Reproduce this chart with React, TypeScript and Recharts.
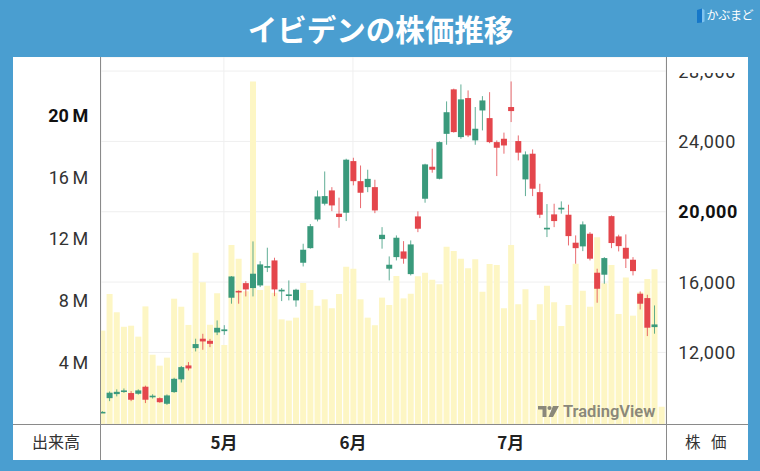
import React from "react";
import { ComposedChart, Bar, XAxis, YAxis, CartesianGrid } from "recharts";

const opens = [8580, 9400, 9630, 9770, 9690, 9650, 10050, 9450, 9400, 9080, 9745, 10470, 11260, 12245, 12780, 12660, 13135, 13210, 15110, 15500, 15940, 15660, 15810, 16815, 17232, 15470, 15240, 14960, 17100, 17930, 19560, 20456, 21213, 19890, 19945, 22880, 21740, 21400, 21400, 18445, 16760, 17420, 17744, 16453, 19735, 20740, 22560, 21875, 24430, 26960, 24245, 26465, 24060, 25760, 25325, 23960, 24150, 25955, 24020, 21840, 23300, 21115, 18995, 19850, 20130, 19830, 18240, 18030, 18750, 16532, 16420, 19750, 18597, 17950, 17270, 15340, 15090, 13440];
const highs = [8660, 9780, 9900, 9950, 9800, 9900, 10110, 9620, 9440, 9610, 10560, 11230, 11450, 12780, 13060, 12770, 13820, 13550, 16340, 15530, 16055, 18313, 17190, 17955, 17385, 15660, 16095, 15620, 18180, 19300, 21210, 22290, 21400, 20800, 23015, 23070, 22630, 22390, 21820, 19125, 17460, 18654, 18330, 18370, 20020, 22730, 23585, 24000, 26275, 27000, 27240, 26900, 25955, 26575, 26800, 24055, 24500, 27410, 24340, 23430, 23545, 21590, 20435, 20455, 20590, 20400, 18654, 19450, 18840, 16760, 17420, 19790, 18692, 18710, 17420, 15470, 15280, 14673];
const lows = [8560, 9230, 9500, 9700, 9230, 9600, 9120, 9380, 9140, 9020, 9700, 10290, 10975, 12057, 12150, 12300, 12985, 13000, 14770, 14770, 15185, 15185, 15715, 16570, 15200, 14920, 14960, 14600, 16890, 17900, 19450, 20360, 20035, 19090, 19470, 21500, 20205, 21115, 19920, 17900, 16095, 17232, 17045, 16380, 18840, 20513, 22220, 21840, 23810, 24500, 24150, 24245, 23810, 24625, 23900, 22030, 23300, 25100, 22920, 20890, 20890, 19640, 18560, 19125, 19890, 18085, 17045, 17760, 17232, 14826, 15905, 17930, 17744, 16800, 16380, 14445, 12930, 13065];
const closes = [8620, 9710, 9760, 9840, 9310, 9840, 9310, 9540, 9170, 9555, 10500, 11165, 11090, 12475, 12625, 12490, 13400, 13310, 16320, 15430, 15583, 16476, 17005, 16910, 15583, 15565, 15300, 15565, 17840, 19180, 20870, 20890, 20360, 19700, 22960, 21740, 21080, 21870, 20075, 18690, 16987, 18522, 17330, 18142, 19035, 22692, 22390, 23960, 25660, 24530, 26390, 24340, 24720, 26330, 23960, 23640, 23770, 25725, 23360, 23260, 21310, 19830, 19090, 19470, 20228, 18615, 17930, 19280, 17330, 15620, 17365, 18220, 18045, 17330, 16625, 14770, 13405, 13592];
// volume in millions of shares
const volumes = [6.05, 8.42, 7.24, 6.3, 6.37, 5.66, 7.62, 4.49, 3.78, 4.3, 8.12, 7.6, 6.42, 11.1, 9.18, 6.43, 8.47, 5.12, 11.6, 10.7, 8.6, 22.2, 8.68, 8.96, 8.5, 6.78, 6.7, 6.89, 9.14, 8.68, 7.66, 8.08, 7.5, 8.42, 10.19, 10.06, 8.08, 6.89, 6.4, 8.19, 7.71, 9.59, 8.14, 8.44, 9.57, 9.8, 9.35, 9.05, 11.49, 11.21, 10.71, 10.09, 10.68, 8.57, 10.37, 10.3, 7.5, 11.6, 7.76, 8.73, 6.74, 7.76, 8.96, 7.89, 6.35, 7.71, 10.39, 8.64, 7.6, 12.1, 9.12, 10.3, 7.13, 9.5, 7.02, 8.53, 9.4, 10.02, 1.12];

const volumeTicks = [4, 8, 12, 16, 20];
const volumeLabels = ["4\u2009M", "8\u2009M", "12\u2009M", "16\u2009M", "20\u2009M"];
const priceTicks = [12000, 16000, 20000, 24000, 28000];
const priceLabels = ["12,000", "16,000", "20,000", "24,000", "28,000"];
const monthTicks = [17, 35, 57];
const monthLabels = ["5月", "6月", "7月"];

const data = volumes.map((v, i) => ({
  i,
  vol: v,
  open: opens[i],
  high: highs[i],
  low: lows[i],
  close: closes[i],
  range: opens[i] == null ? null : [lows[i], highs[i]],
}));

const UP = "#3a9a7c";
const DOWN = "#e4464c";
const BLUE = "#4a9ed0";
const NUM_FONT = "Roboto, 'Noto Sans', sans-serif";
const JP_FONT = "'Noto Sans CJK JP', sans-serif";

const Candle = (props: any) => {
  const { x, y, width, height, payload } = props;
  if (!payload || payload.open == null || height == null || isNaN(height)) return null;
  const { open, close, high, low } = payload;
  const top = Math.min(y, y + height);
  const h = Math.abs(height);
  const k = high === low ? 0 : h / (high - low);
  const yO = top + (high - open) * k;
  const yC = top + (high - close) * k;
  const color = close >= open ? UP : DOWN;
  const cx = x + width / 2;
  const bTop = Math.min(yO, yC);
  const bH = Math.max(1.6, Math.abs(yO - yC));
  return (
    <g>
      <line x1={cx} x2={cx} y1={top} y2={top + h} stroke={color} strokeWidth={1} strokeOpacity={0.8} />
      <rect x={x} y={bTop} width={width} height={bH} fill={color} />
    </g>
  );
};

const VolTick = (props: any) => {
  const { x, y, payload } = props;
  const idx = volumeTicks.indexOf(payload.value);
  const bold = payload.value === 20;
  return (
    <text x={x} y={y} textAnchor="end" dominantBaseline="central" fontFamily={NUM_FONT} fontSize={18} fontWeight={bold ? 700 : 400} fill={bold ? "#111" : "#333"}>
      {volumeLabels[idx]}
    </text>
  );
};

const PriceTick = (props: any) => {
  const { x, y, payload } = props;
  const idx = priceTicks.indexOf(payload.value);
  const bold = payload.value === 20000;
  return (
    <text x={x} y={y} textAnchor="start" dominantBaseline="central" fontFamily={NUM_FONT} fontSize={18} letterSpacing={0.6} fontWeight={bold ? 700 : 400} fill={bold ? "#111" : "#333"}>
      {priceLabels[idx]}
    </text>
  );
};

const MonthTick = (props: any) => {
  const { x, y, payload } = props;
  const idx = monthTicks.indexOf(payload.value);
  return (
    <text x={x} y={y} textAnchor="middle" dominantBaseline="central" fontFamily={JP_FONT} fontSize={17} fontWeight={700} fill="#222">
      {monthLabels[idx]}
    </text>
  );
};

const line = (style: React.CSSProperties) => (
  <div style={{ position: "absolute", background: "#8a8a8a", ...style }} />
);

export default function App() {
  return (
    <div style={{ position: "absolute", left: 0, top: 0, width: 760, height: 471, background: BLUE, overflow: "hidden" }}>
      <div style={{ position: "absolute", left: 0, top: 9, width: 761, textAlign: "center", color: "#fff", fontFamily: JP_FONT, fontWeight: 700, fontSize: 29.5, lineHeight: "38px" }}>
        イビデンの株価推移
      </div>
      <svg style={{ position: "absolute", left: 695, top: 7 }} width={12} height={17}>
        <polygon points="2,3 7,1.5 7,15.5 2,16" fill="#1677c9" />
        <polygon points="7,1.5 9.5,3 9.5,14.5 7,15.5" fill="#7fc3ef" />
      </svg>
      <div style={{ position: "absolute", left: 706.5, top: 6, color: "#fff", fontFamily: JP_FONT, fontSize: 12, lineHeight: "18px", letterSpacing: -0.3 }}>
        かぶまど
      </div>
      <div style={{ position: "absolute", left: 13, top: 57, width: 735, height: 403, background: "#fff" }}>
        <ComposedChart width={735} height={403} data={data} margin={{ top: 0, right: 0, bottom: 0, left: 0 }}>
          <CartesianGrid xAxisId="v" yAxisId="price" stroke="#efefef" strokeWidth={1} />
          <XAxis xAxisId="p" dataKey="i" type="number" domain={[-0.14, 78.66]} allowDataOverflow hide height={0} />
          <XAxis xAxisId="v" dataKey="i" type="number" domain={[-0.14, 78.66]} allowDataOverflow ticks={monthTicks} interval={0} tick={<MonthTick />} tickLine={false} axisLine={false} tickSize={0} tickMargin={17} height={36} />
          <YAxis yAxisId="vol" orientation="left" width={88} domain={[0, 23.78]} allowDataOverflow ticks={volumeTicks} interval={0} tick={<VolTick />} tickLine={false} axisLine={false} tickSize={0} tickMargin={12.7} />
          <YAxis yAxisId="price" orientation="right" width={82} domain={[7930, 28800]} allowDataOverflow ticks={priceTicks} interval={0} tick={<PriceTick />} tickLine={false} axisLine={false} tickSize={0} tickMargin={12.3} />
          <Bar xAxisId="v" yAxisId="vol" dataKey="vol" fill="#fdf6c4" barSize={6} isAnimationActive={false} />
          <Bar xAxisId="p" yAxisId="price" dataKey="range" shape={<Candle />} barSize={6} isAnimationActive={false} />
        </ComposedChart>
      </div>
      {/* hide the top of the clipped 28,000 label */}
      <div style={{ position: "absolute", left: 667, top: 57, width: 81, height: 15.5, background: "#fff" }} />
      {line({ left: 100, top: 57, width: 1.2, height: 403 })}
      {line({ left: 665.5, top: 57, width: 1.2, height: 403 })}
      {line({ left: 13, top: 423.5, width: 735, height: 1.2 })}
      <div style={{ position: "absolute", left: 31, top: 431, width: 50, textAlign: "center", fontFamily: JP_FONT, fontSize: 16, lineHeight: "20px", color: "#333" }}>出来高</div>
      <div style={{ position: "absolute", left: 685, top: 431, fontFamily: JP_FONT, fontSize: 15.5, lineHeight: "20px", color: "#333" }}>株</div>
      <div style={{ position: "absolute", left: 711, top: 431, fontFamily: JP_FONT, fontSize: 15.5, lineHeight: "20px", color: "#333" }}>価</div>
      <svg style={{ position: "absolute", left: 536, top: 400 }} width={126} height={22}>
        <polygon points="2,6 10.5,6 10.5,17 6.5,17 6.5,9.5 2,9.5" fill="#8a887a" />
        <circle cx={13.5} cy={8} r={2.1} fill="#8a887a" />
        <polygon points="17,6 23,6 17,17 12.5,17" fill="#8a887a" />
        <text x={27} y={17} fontFamily={NUM_FONT} fontSize={16.5} fontWeight={600} fill="#8a887a">TradingView</text>
      </svg>
    </div>
  );
}
